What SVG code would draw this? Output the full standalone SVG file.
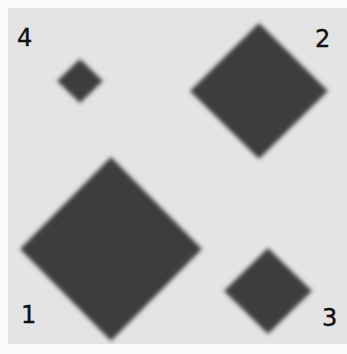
<svg xmlns="http://www.w3.org/2000/svg" width="347" height="354" viewBox="0 0 347 354">
<style>
.d{fill:#3e3e3e;filter:url(#b)}
.t{font-family:"DejaVu Sans",sans-serif;font-size:24px;fill:#111;stroke:#111;stroke-width:0.4}
</style>
<defs><filter id="b" x="-20%" y="-20%" width="140%" height="140%"><feGaussianBlur stdDeviation="2"/></filter></defs>
<rect width="347" height="354" fill="#fafafa"/>
<rect x="8" y="8" width="339" height="336" fill="#e4e4e4"/>
<g id="n4"><polygon class="d" points="80,59 103,81 80,103 57,81"/><text class="t" x="17" y="46">4</text></g>
<g id="n2"><polygon class="d" points="259,23 328,91 259,159 190,91"/><text class="t" x="315" y="47">2</text></g>
<g id="n1"><polygon class="d" points="111,157 202,249 111,341 20,249"/><text class="t" x="21" y="323">1</text></g>
<g id="n3"><polygon class="d" points="268,248 312,291 268,334 224,291"/><text class="t" x="322" y="326">3</text></g>
<g id="connectors"/>
</svg>
